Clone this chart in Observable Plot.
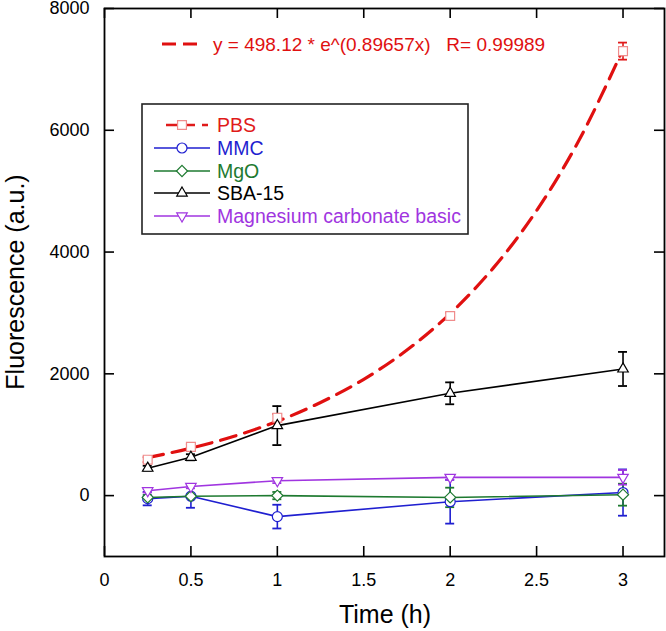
<!DOCTYPE html>
<html><head><meta charset="utf-8">
<script src="https://cdn.jsdelivr.net/npm/d3@7"></script>
<script src="https://cdn.jsdelivr.net/npm/@observablehq/plot@0.6"></script>
<style>
body{margin:0;background:#fff;font-family:"Liberation Sans",Arial,sans-serif;}
#wrap{position:relative;width:666px;height:631px;overflow:hidden;}
#wrap svg{display:block;}
.ov{position:absolute;left:0;top:0;pointer-events:none;}
</style></head><body><div id="wrap"></div>
<script>
// ---- data ----
const time = [0.25, 0.5, 1, 2, 3];
const pbs = [590, 800, 1280, 2950, 7300];
const pbsErr = [40, 40, 60, 50, 140];
const mmc = [-50, -10, -345, -100, 50];
const mmcErr = [110, 190, 195, 360, 380];
const mgo = [-30, -10, 0, -30, 15];
const mgoErr = [40, 30, 60, 160, 180];
const sba = [450, 630, 1150, 1680, 2080];
const sbaErr = [40, 50, 320, 180, 280];
const basic = [80, 150, 245, 300, 300];
const basicErr = [30, 30, 40, 40, 120];
// fitted exponential curve
const fitTime = [0.25, 0.5, 0.75, 1, 1.25, 1.5, 1.75, 2, 2.25, 2.5, 2.75, 3];
const fitValue = [623, 780, 975, 1220, 1530, 1910, 2390, 2990, 3740, 4680, 5860, 7330];
const xTicks = [0, 0.5, 1, 1.5, 2, 2.5, 3];
const yTicks = [0, 2000, 4000, 6000, 8000];
const equationText = "y = 498.12 * e^(0.89657x)   R= 0.99989";
const xLabel = "Time (h)";
const yLabel = "Fluorescence (a.u.)";

const series = [
  {name: "PBS", values: pbs, errs: pbsErr, color: "#e01a1a", mark: "#f08c8c", symbol: "square", r: 5, rotate: 0, line: false},
  {name: "MMC", values: mmc, errs: mmcErr, color: "#1f1fd0", mark: "#1f1fd0", symbol: "circle", r: 5, rotate: 0, line: true},
  {name: "MgO", values: mgo, errs: mgoErr, color: "#1e7a30", mark: "#1e7a30", symbol: "diamond2", r: 5, rotate: 0, line: true},
  {name: "SBA-15", values: sba, errs: sbaErr, color: "#000000", mark: "#000000", symbol: "triangle", r: 3.9, rotate: 0, line: true},
  {name: "Magnesium carbonate basic", values: basic, errs: basicErr, color: "#a035e0", mark: "#a035e0", symbol: "triangle", r: 3.9, rotate: 180, line: true}
];

const W = 666, H = 631;
const mL = 104, mR = 2, mT = 8, mB = 75;
const innerW = W - mL - mR, innerH = H - mT - mB;
const tickLen = 10, cap = 0.026;

const marks = [];
// inward ticks on all four sides
marks.push(Plot.ruleX(xTicks, {x: d => d, insetTop: innerH - tickLen, stroke: "#000", strokeWidth: 1.6}));
marks.push(Plot.ruleX(xTicks, {x: d => d, insetBottom: innerH - tickLen, stroke: "#000", strokeWidth: 1.6}));
marks.push(Plot.ruleY(yTicks, {y: d => d, insetRight: innerW - tickLen, stroke: "#000", strokeWidth: 1.6}));
marks.push(Plot.ruleY(yTicks, {y: d => d, insetLeft: innerW - tickLen, stroke: "#000", strokeWidth: 1.6}));

for (const s of series) {
  const rows = time.map((t, i) => ({t, v: s.values[i], e: s.errs[i]}));
  if (s.line) marks.push(Plot.line(rows, {x: "t", y: "v", stroke: s.color, strokeWidth: 1.6}));
  marks.push(Plot.ruleX(rows, {x: "t", y1: d => d.v - d.e, y2: d => d.v + d.e, stroke: s.color, strokeWidth: 1.6}));
  marks.push(Plot.ruleY(rows, {y: d => d.v - d.e, x1: d => d.t - cap, x2: d => d.t + cap, stroke: s.color, strokeWidth: 1.8}));
  marks.push(Plot.ruleY(rows, {y: d => d.v + d.e, x1: d => d.t - cap, x2: d => d.t + cap, stroke: s.color, strokeWidth: 1.8}));
}
const fit = fitTime.map((t, i) => ({t, v: fitValue[i]}));
marks.push(Plot.line(fit, {x: "t", y: "v", curve: "catmull-rom", stroke: "#e01010", strokeWidth: 3.2, strokeDasharray: "16,9"}));
for (const s of series) {
  const rows = time.map((t, i) => ({t, v: s.values[i]}));
  marks.push(Plot.dot(rows, {x: "t", y: "v", symbol: () => s.symbol, r: s.r, rotate: s.rotate, fill: "white", stroke: s.mark, strokeWidth: 1.2}));
}
marks.push(Plot.frame({stroke: "#000", strokeWidth: 1.8}));
marks.push(Plot.axisX({ticks: xTicks, tickSize: 0, tickPadding: 17, fontSize: 18, tickFormat: d => String(d), label: null}));
marks.push(Plot.axisY({ticks: yTicks, tickSize: 0, tickPadding: 15, fontSize: 18, tickFormat: d => String(d), label: null}));

const chart = Plot.plot({
  width: W, height: H,
  marginLeft: mL, marginRight: mR, marginTop: mT, marginBottom: mB,
  x: {domain: [0, 3.24]},
  y: {domain: [-1000, 8000]},
  symbol: {type: "identity"},
  style: {fontFamily: "'Liberation Sans', Arial, sans-serif", color: "#000", background: "white", overflow: "visible"},
  marks
});
const wrap = document.getElementById("wrap");
wrap.appendChild(chart);

// overlay: axis titles, equation, legend
const ov = d3.select(wrap).append("svg").attr("class", "ov").attr("width", W).attr("height", H)
  .style("font-family", "'Liberation Sans', Arial, sans-serif");
ov.append("text").attr("x", 385).attr("y", 623).attr("text-anchor", "middle").attr("font-size", 25).text(xLabel);
ov.append("text").attr("transform", "translate(24,282) rotate(-90)").attr("text-anchor", "middle").attr("font-size", 25).text(yLabel);

// equation line
ov.append("line").attr("x1", 162).attr("x2", 203).attr("y1", 44).attr("y2", 44)
  .attr("stroke", "#e01010").attr("stroke-width", 3).attr("stroke-dasharray", "14,7");
ov.append("text").attr("x", 213).attr("y", 51).attr("font-size", 19).attr("fill", "#e01010")
  .style("white-space", "pre").text(equationText);

// legend
const lg = ov.append("g").attr("transform", "translate(142,104)");
lg.append("rect").attr("width", 326).attr("height", 130).attr("fill", "white").attr("stroke", "#222").attr("stroke-width", 1.6);
const rowY = [21, 44, 67, 89, 112];
const symTypes = {square: d3.symbolSquare, circle: d3.symbolCircle, diamond2: d3.symbolDiamond2, triangle: d3.symbolTriangle};
series.forEach((s, i) => {
  const g = lg.append("g").attr("transform", `translate(0,${rowY[i]})`);
  if (s.name === "PBS") {
    g.append("line").attr("x1", 24).attr("x2", 66).attr("stroke", s.color).attr("stroke-width", 2.6).attr("stroke-dasharray", "11,7");
  } else {
    g.append("line").attr("x1", 12).attr("x2", 68).attr("stroke", s.color).attr("stroke-width", 1.6);
  }
  const sym = d3.symbol().type(symTypes[s.symbol]).size(Math.PI * s.r * s.r);
  g.append("path").attr("d", sym()).attr("transform", `translate(40,0) rotate(${s.rotate})`)
    .attr("fill", "white").attr("stroke", s.mark).attr("stroke-width", 1.2);
  g.append("text").attr("x", 75).attr("y", 7).attr("font-size", 19.5).attr("fill", s.color).text(s.name);
});
</script></body></html>
